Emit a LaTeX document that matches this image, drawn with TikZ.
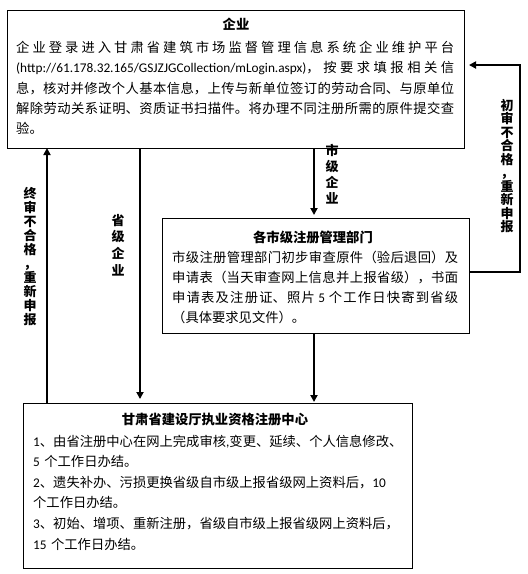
\documentclass[tikz,border=0pt]{standalone}
\usepackage{fontspec}
\setmainfont{Noto Sans CJK SC}
\newfontfamily\lat{Carlito}
\usetikzlibrary{arrows.meta}
\XeTeXlinebreaklocale "zh"
\XeTeXlinebreakskip=0pt plus 3pt
\tikzset{
  box/.style={draw, line width=1pt, inner sep=0pt, outer sep=0pt, anchor=north west},
  ttl/.style={font=\fontsize{13.3}{16}\selectfont\bfseries, inner sep=0pt},
  body/.style={font=\fontsize{13.3}{#1}\selectfont, inner sep=0pt, anchor=base west,
    execute at begin node={\tolerance=10000\hbadness=10000}},
  vlab/.style={font=\fontsize{13}{#1}\selectfont\bfseries, align=center, inner sep=0pt},
  arr/.style={line width=2.2pt, -{Triangle[length=7pt,width=7pt]}},
}
\begin{document}
\begin{tikzpicture}[x=1pt,y=-1pt]
\fill[white] (0,0) rectangle (528,574);
\useasboundingbox (0,0) rectangle (528,574);
% boxes
\node[box, minimum width=457pt, minimum height=138pt] (top) at (7,10) {};
\node[box, minimum width=307pt, minimum height=115pt] (mid) at (162,218) {};
\node[box, minimum width=389pt, minimum height=165pt] (bot) at (23,403) {};
% titles
\node[ttl] (ttop) at (236,24) {企业};
\node[ttl] (tmid) at (313,237) {各市级注册管理部门};
\node[ttl] (tbot) at (215,419) {甘肃省建设厅执业资格注册中心};
% body texts
\node[body=20.3, text width=438pt, align=justify] (btop) at (16,52.5) {企业登录进入甘肃省建筑市场监督管理信息系统企业维护平台\linebreak
\mbox{\lat (http://61.178.32.165/GSJZJGCollection/mLogin.aspx)}，按要求填报相关信\linebreak
息，核对并修改个人基本信息，上传与新单位签订的劳动合同、与原单位\linebreak
解除劳动关系证明、资质证书扫描件。将办理不同注册所需的原件提交查\linebreak
验。};
\node[body=20, text width=286pt, align=justify] (bmid) at (172,262) {市级注册管理部门初步审查原件（验后退回）及\linebreak
申请表（当天审查网上信息并上报省级），书面\linebreak
申请表及注册证、照片 {\lat 5} 个工作日快寄到省级\linebreak
（具体要求见文件）。};
\node[body=20.6, text width=376pt, align=left] (bbot) at (33,446) {{\lat 1}、由省注册中心在网上完成审核{\lat ,}变更、延续、个人信息修改、\\
{\lat 5} 个工作日办结。\\
{\lat 2}、遗失补办、污损更换省级自市级上报省级网上资料后，{\lat 10}\\
个工作日办结。\\
{\lat 3}、初始、增项、重新注册，省级自市级上报省级网上资料后，\\
{\lat 15} 个工作日办结。};
% helper coordinates
\coordinate (xa) at (314,0);
\coordinate (xb) at (140,0);
\coordinate (xc) at (47,0);
\coordinate (xr) at (520,0);
\coordinate (yt) at (0,65);
\coordinate (yl) at (0,272);
% connectors
\draw[arr, shorten >=3pt] (top.south -| xa) -- (mid.north -| xa);
\draw[arr, shorten >=1pt] (mid.south -| xa) -- (bot.north -| xa);
\draw[arr, shorten >=4pt] (top.south -| xb) -- (bot.north -| xb);
\draw[arr] (bot.north -| xc) -- (top.south -| xc);
\draw[arr, shorten >=5pt] (mid.east |- yl) -- (xr |- yl) -- (xr |- yt) -- (top.east |- yt);
% connector labels
\node[vlab=16] (lsj) at (332,174) {市\\级\\企\\业};
\node[vlab=16.7] (lsheng) at (118,245) {省\\级\\企\\业};
\node[vlab=14.1] (lzs) at (30,256.5) {终\\审\\不\\合\\格\\，\\重\\新\\申\\报};
\node[vlab=13.5] (lcs) at (507,166) {初\\审\\不\\合\\格\\，\\重\\新\\申\\报};
\end{tikzpicture}
\end{document}
